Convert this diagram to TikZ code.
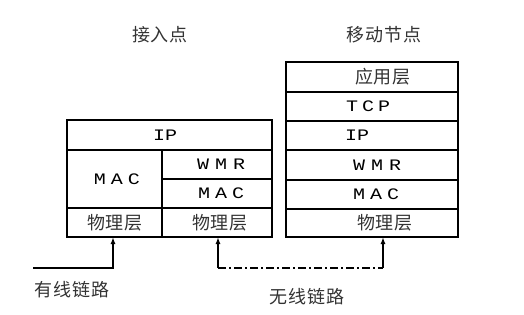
\documentclass[tikz,border=0pt]{standalone}
\usepackage{fontspec}
\newfontfamily\cjk{Noto Sans CJK SC}[LetterSpace=5]
\newfontfamily\lat{Liberation Mono}[FakeStretch=1.25]
\usetikzlibrary{arrows.meta}
\begin{document}
\begin{tikzpicture}[x=1pt,y=-1pt,
  box/.style={draw,line width=1.3pt},
  cn/.style={font=\cjk\fontsize{18}{20}\selectfont,inner sep=0pt,text=black!80},
  ln/.style={font=\lat\fontsize{16}{18}\selectfont,inner sep=0pt},
  link/.style={line width=1.5pt,-{Latex[length=7pt,width=5pt]}}]
\useasboundingbox (0,0) rectangle (524,314);
% left box (access point)
\draw[box] (67,120) rectangle (272,237);
\draw[box] (67,150) -- (272,150);
\draw[box] (162,150) -- (162,237);
\draw[box] (162,179) -- (272,179);
\draw[box] (67,208) -- (272,208);
\node[ln] (lip) at (165,135) {IP};
\node[ln] (lmac) at (117,179) {M\hspace{5pt}A\hspace{5pt}C};
\node[ln] (lwmr) at (221,164.5) {W\hspace{6pt}M\hspace{6pt}R};
\node[ln] (lmac2) at (221,193.5) {M\hspace{5pt}A\hspace{5pt}C};
\node[cn] (lphy1) at (115,222.5) {物理层};
\node[cn] (lphy2) at (220,222.5) {物理层};
% right box (mobile node)
\draw[box] (286,62) rectangle (458,237);
\foreach \y in {92,121,150,180,209} \draw[box] (286,\y) -- (458,\y);
\node[cn] (rapp) at (383,77) {应用层};
\node[ln] (rtcp) at (368,106.5) {T\hspace{4pt}C\hspace{4pt}P};
\node[ln] (rip) at (357,135.5) {IP};
\node[ln] (rwmr) at (377,165) {W\hspace{6pt}M\hspace{6pt}R};
\node[ln] (rmac) at (376,194.5) {M\hspace{5pt}A\hspace{5pt}C};
\node[cn] (rphy) at (385,223) {物理层};
% titles
\node[cn] (tap) at (160,35) {接入点};
\node[cn] (tmn) at (384,35) {移动节点};
% links
\coordinate (w0) at (33,268);
\coordinate (w1) at (113,268);
\coordinate (a1) at (113,237);
\coordinate (d0) at (218,268);
\coordinate (d1) at (383,268);
\coordinate (a2) at (218,237);
\coordinate (a3) at (383,237);
\draw[link] (w0) -- (w1) -- (a1);
\draw[line width=1.5pt,dash pattern=on 8pt off 3pt on 2pt off 3pt] (d0) -- (d1);
\draw[link] (d0) -- (a2);
\draw[link] (d1) -- (a3);
\node[cn] (lw) at (72,290) {有线链路};
\node[cn] (lwl) at (307,297) {无线链路};
\end{tikzpicture}
\end{document}
